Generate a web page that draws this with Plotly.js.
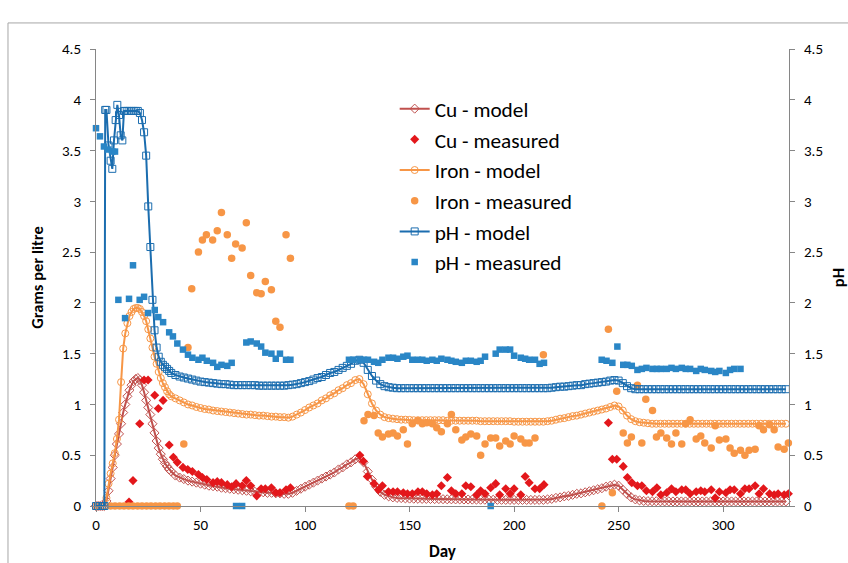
<!DOCTYPE html>
<html>
<head>
<meta charset="utf-8">
<script src="https://cdn.plot.ly/plotly-3.0.1.min.js"></script>
<style>
html,body{margin:0;padding:0;background:#fff;}
#chart{width:848px;height:563px;}
</style>
</head>
<body>
<div id="chart"></div>
<script>
// ---------- Model day grid ----------
const modelDays = [0,1,2,3,4,5,6,7,8,9,10,11,12,13,14,15,16,17,18,19,20,21,22,23,24,25,26,27,28,29,30,31,32,33,34,35,36,
38,40,42,44,46,48,50,52,54,56,58,60,62,64,66,68,70,72,74,76,78,80,82,84,86,88,90,92,
94,96,98,100,102,104,106,108,110,112,114,116,118,120,122,124,
126,128,130,132,134,136,138,140,142,144,146,148,150,
152,154,156,158,160,162,164,166,168,170,172,174,176,178,180,182,184,186,188,190,192,194,196,198,200,202,204,206,208,210,212,214,
216,218,220,222,224,226,228,230,232,234,236,238,240,242,244,246,248,
250,252,254,256,258,260,262,264,
266,268,270,272,274,276,278,280,282,284,286,288,290,292,294,296,298,300,302,304,306,308,310,312,314,316,318,320,322,324,326,328,330];

const cuModel = [0,0,0,0,0,.05,.15,.27,.38,.50,.61,.71,.81,.92,1.0,1.08,1.14,1.19,1.23,1.25,1.26,1.24,1.19,1.12,1.04,.97,.90,.81,.72,.64,.57,.51,.46,.42,.39,.36,.34,
.30,.28,.265,.25,.24,.23,.22,.21,.20,.195,.19,.18,.175,.17,.165,.16,.155,.15,.145,.14,.14,.135,.13,.13,.125,.125,.12,.12,
.13,.15,.17,.19,.21,.23,.25,.27,.29,.31,.33,.36,.38,.41,.43,.46,
.47,.43,.34,.26,.19,.14,.11,.095,.085,.08,.078,.075,.073,
.072,.071,.07,.07,.069,.068,.068,.067,.066,.066,.065,.065,.064,.064,.063,.063,.062,.062,.062,.061,.061,.061,.06,.06,.06,.06,.06,.06,.06,.06,.06,.06,
.065,.07,.08,.085,.095,.10,.11,.12,.125,.135,.145,.155,.165,.175,.19,.20,.21,
.20,.16,.12,.085,.065,.055,.05,.048,
.047,.047,.046,.045,.045,.045,.045,.045,.045,.045,.045,.045,.045,.045,.045,.045,.045,.045,.045,.045,.045,.045,.045,.045,.045,.045,.045,.045,.045,.045,.045,.045,.045];

const ironModel = [0,0,0,0,0,.08,.22,.32,.42,.52,.66,.85,1.22,1.55,1.70,1.80,1.87,1.91,1.94,1.95,1.95,1.94,1.91,1.87,1.82,1.74,1.65,1.56,1.47,1.40,1.32,1.26,1.21,1.17,1.13,1.10,1.08,
1.06,1.04,1.02,1.0,.99,.975,.965,.955,.95,.94,.935,.93,.925,.92,.915,.91,.905,.90,.90,.895,.89,.89,.885,.88,.88,.875,.875,.87,
.88,.90,.92,.945,.97,.99,1.01,1.04,1.06,1.09,1.11,1.14,1.16,1.19,1.21,1.24,
1.25,1.20,1.10,1.01,.94,.90,.875,.865,.86,.855,.85,.85,.848,
.845,.845,.845,.845,.845,.845,.845,.845,.84,.84,.84,.84,.84,.84,.84,.84,.835,.835,.835,.835,.835,.835,.835,.835,.83,.83,.83,.83,.83,.83,.83,.83,
.835,.84,.85,.86,.865,.875,.885,.89,.90,.91,.92,.93,.94,.95,.96,.975,.99,
.98,.94,.89,.855,.835,.825,.82,.815,
.81,.81,.81,.81,.81,.81,.81,.81,.81,.81,.81,.81,.81,.81,.81,.81,.81,.81,.81,.81,.81,.81,.81,.81,.81,.81,.81,.81,.81,.81,.81,.81,.81];

const phModelDays = [0,1,2,3,4,4.4,5,6,7,7.8,8.6,9.4,10.2,11,11.8,12.6,13.4,14,15,16,17,18,19,20,21,22,23,24,25,26,27,28,29,30,31,32,33,34,35,36,
38,40,42,44,46,48,50,52,54,56,58,60,62,64,66,68,70,72,74,76,78,80,82,84,86,88,90,92,
94,96,98,100,102,104,106,108,110,112,114,116,118,120,122,124,
126,128,130,132,134,136,138,140,142,144,146,148,150,
152,154,156,158,160,162,164,166,168,170,172,174,176,178,180,182,184,186,188,190,192,194,196,198,200,202,204,206,208,210,212,214,
216,218,220,222,224,226,228,230,232,234,236,238,240,242,244,246,248,
250,252,254,256,258,260,262,264,
266,268,270,272,274,276,278,280,282,284,286,288,290,292,294,296,298,300,302,304,306,308,310,312,314,316,318,320,322,324,326,328,330];

const phModel = [0,0,0,0,0,3.9,3.9,3.55,3.4,3.32,3.6,3.8,3.95,3.85,3.65,3.6,3.89,3.89,3.89,3.89,3.89,3.89,3.89,3.89,3.87,3.8,3.68,3.45,2.95,2.55,2.03,1.73,1.56,1.47,1.42,1.39,1.37,1.35,1.33,1.31,
1.29,1.275,1.265,1.255,1.245,1.235,1.225,1.22,1.215,1.21,1.205,1.20,1.20,1.195,1.19,1.19,1.19,1.19,1.19,1.19,1.185,1.185,1.185,1.185,1.185,1.185,1.185,1.19,
1.195,1.20,1.21,1.22,1.23,1.245,1.26,1.27,1.29,1.31,1.32,1.34,1.36,1.38,1.40,1.43,
1.44,1.41,1.34,1.28,1.235,1.20,1.18,1.17,1.165,1.16,1.16,1.16,1.16,
1.16,1.16,1.16,1.16,1.16,1.16,1.16,1.16,1.16,1.16,1.16,1.16,1.16,1.16,1.16,1.16,1.16,1.16,1.16,1.16,1.16,1.16,1.16,1.16,1.16,1.16,1.16,1.16,1.16,1.16,1.16,1.16,
1.16,1.165,1.17,1.175,1.175,1.18,1.185,1.19,1.19,1.20,1.205,1.21,1.215,1.22,1.225,1.235,1.24,
1.235,1.21,1.18,1.16,1.15,1.15,1.15,1.15,
1.15,1.15,1.15,1.15,1.15,1.15,1.15,1.15,1.15,1.15,1.15,1.15,1.15,1.15,1.15,1.15,1.15,1.15,1.15,1.15,1.15,1.15,1.15,1.15,1.15,1.15,1.15,1.15,1.15,1.15,1.15,1.15,1.15];

// ---------- Measured ----------
const cuDays = [15.8,17.7,20.9,23,24.9,28.1,29.8,32.1,35,37,38.9,41.6,43.9,46.1,49,50.9,53,56,58,60,62.8,64.9,67,69.9,71.9,74,76.9,79,81,83.9,86,88,90.9,93,
126.2,127.9,129.8,133,135.1,137,139.9,142.1,144.2,147,149,151.3,154,156.1,158.2,160.9,163,165.2,168.1,170,172.1,175,176.9,179.3,182.1,184,186.1,188.8,191.2,193.1,196,198.1,200,203.2,205.3,207.2,210,212.2,214.3,
245.1,247,249.1,252.2,254.2,256.3,259,261.1,263.3,266.2,268.3,270.2,273,275.3,277.4,280.2,282.1,284.2,287.1,289.3,291.2,294.3,296.2,298.2,301.3,303.3,305.3,308.3,310.4,312.4,315.3,317.2,319.3,322.2,324.4,326.3,329.2,331.2];
const cuMeasured = [.04,.25,.81,1.24,1.24,1.09,.96,1.04,.60,.48,.43,.38,.36,.34,.31,.28,.26,.23,.24,.23,.21,.19,.22,.20,.25,.20,.10,.17,.17,.18,.13,.13,.16,.18,
.50,.44,.29,.22,.16,.20,.14,.14,.14,.13,.12,.12,.14,.14,.12,.11,.12,.20,.28,.15,.12,.12,.20,.19,.11,.15,.12,.18,.22,.11,.17,.12,.17,.11,.29,.23,.17,.17,.21,
.82,.46,.46,.39,.28,.23,.20,.20,.15,.14,.18,.11,.13,.17,.14,.16,.16,.12,.14,.15,.14,.16,.08,.14,.13,.16,.16,.12,.17,.17,.20,.12,.17,.12,.11,.12,.11,.12];

const ironDays = [7,9.1,11.3,13.4,15.6,17.7,19.9,22,24.2,26.3,28.5,30.6,32.8,34.9,37,38.9,
42,44,45.8,49,50.9,52.8,55.8,58,60,62.8,64.9,66.8,69.9,71.9,74,76.9,79,81,83.9,86,88,90.9,93,
121,123,128.2,130.1,133,135,137,139.9,142.1,144.2,147,149,151.3,154,156.1,158.2,160.9,163,165.2,168.1,170,172.1,175,176.9,179.3,182.1,184,186.1,188.8,191.2,193.1,196,198.1,200,203.2,205.3,207.2,210,214,
242,245.1,247,249.1,252.2,254.2,256.1,259,261.1,263,266.2,268.1,270.2,273,275.3,277.4,280.2,282.1,284.2,287.1,289.3,291.2,294.3,296.2,298.2,301.3,303.3,305.3,308.3,310.4,312.4,315.3,317.2,319.3,322.2,324.4,326.3,329.2,331.2];
const ironMeasured = [0,0,0,0,0,0,0,0,0,0,0,0,0,0,0,0,
.61,1.56,2.14,2.50,2.62,2.67,2.62,2.71,2.89,2.67,2.44,2.58,2.54,2.79,2.27,2.10,2.09,2.21,2.13,1.82,1.76,2.67,2.44,
0,0,.84,.90,.89,.72,.68,.71,.72,.69,.75,.61,.81,.84,.81,.82,.81,.77,.73,.81,.90,.75,.65,.68,.71,.69,.50,.61,.67,.67,.59,.64,.61,.69,.66,.62,.62,.67,1.49,
0,1.74,.13,1.13,.72,.62,.68,1.19,.62,1.05,.94,.68,.72,.67,.61,.72,.61,.81,.85,.66,.69,.62,.57,.79,.65,.66,.57,.52,.55,.50,.55,.56,.79,.75,.80,.75,.58,.56,.62];

const phDays = [0,1.9,3.8,5.9,7.8,9.1,10.7,13.9,15.8,17.7,20.9,23,24.9,28.1,29.8,32.1,35,36.8,38.9,41.6,44,46.1,49,50.9,53,56,58,60,62.8,64.9,67,69.9,71.9,74,76.9,79,81,83.9,86,88,90.9,93,
121,123,126.2,128.2,130.1,133,135,137,139.9,142.1,144.2,147,149,151.3,154,156.1,158.2,160.9,163,165.2,168.1,170,172.1,175,176.9,179.3,182.1,184,186.1,188.8,191.2,193.1,196,198.1,200,203.2,205.3,207.2,210,212.2,214.3,
241.9,244.2,247,249.4,252.2,254.2,256.3,259,261.1,263.3,266.2,268.3,270.2,273,275.3,277.4,280.2,282.1,284.2,287.1,289.3,291.2,294.3,296.2,298.2,301.3,303.3,305.3,308.3];
const phMeasured = [3.72,3.64,3.54,3.51,3.49,3.49,2.03,1.85,2.04,2.37,2.03,2.06,1.90,1.93,1.86,1.81,1.71,1.67,1.60,1.54,1.49,1.46,1.44,1.46,1.43,1.41,1.37,1.39,1.38,1.41,0,0,1.61,1.62,1.60,1.57,1.51,1.50,1.45,1.50,1.44,1.44,
1.44,1.44,1.44,1.44,1.44,1.42,1.41,1.44,1.46,1.46,1.45,1.47,1.48,1.44,1.44,1.44,1.43,1.44,1.43,1.45,1.44,1.43,1.42,1.41,1.43,1.43,1.42,1.43,1.47,0,1.50,1.54,1.54,1.54,1.48,1.46,1.45,1.44,1.44,1.40,1.41,
1.44,1.43,1.41,1.57,1.39,1.39,1.38,1.34,1.35,1.36,1.35,1.35,1.35,1.35,1.36,1.35,1.36,1.35,1.35,1.33,1.35,1.34,1.33,1.32,1.33,1.31,1.34,1.35,1.35];

const yTicks = [0,0.5,1,1.5,2,2.5,3,3.5,4,4.5];

// ---------- Styles ----------
const FONT = 'Carlito, Lato, "Liberation Sans", sans-serif';
const C_CU_M = '#C0504D', C_CU = '#E3171B', C_FE = '#F79646', C_PH_M = '#1B6DAF', C_PH = '#2A86C6';
const AX = '#868686';

const traces = [
  {name:'Cu - model', x:modelDays, y:cuModel, type:'scatter', mode:'lines+markers',
   line:{color:C_CU_M, width:2}, marker:{symbol:'diamond-open', size:7, color:C_CU_M, line:{width:1}}, cliponaxis:false},
  {name:'Cu - measured', x:cuDays, y:cuMeasured, type:'scatter', mode:'markers',
   marker:{symbol:'diamond', size:7, color:C_CU}, cliponaxis:false},
  {name:'Iron - model', x:modelDays, y:ironModel, type:'scatter', mode:'lines+markers',
   line:{color:C_FE, width:2}, marker:{symbol:'circle-open', size:7, color:C_FE, line:{width:1}}, cliponaxis:false},
  {name:'Iron - measured', x:ironDays, y:ironMeasured, type:'scatter', mode:'markers',
   marker:{symbol:'circle', size:7.5, color:C_FE}, cliponaxis:false},
  {name:'pH - model', x:phModelDays, y:phModel, type:'scatter', mode:'lines+markers', yaxis:'y2',
   line:{color:C_PH_M, width:2}, marker:{symbol:'square-open', size:7, color:C_PH_M, line:{width:1}}, cliponaxis:false},
  {name:'pH - measured', x:phDays, y:phMeasured, type:'scatter', mode:'markers', yaxis:'y2',
   marker:{symbol:'square', size:6.5, color:C_PH}, cliponaxis:false}
];

const layout = {
  width:848, height:563,
  margin:{l:96, r:59, t:49, b:57, pad:0},
  paper_bgcolor:'#ffffff', plot_bgcolor:'#ffffff',
  font:{family:FONT, size:15, color:'#000'},
  showlegend:true,
  legend:{x:0.431, y:0.914, xanchor:'left', yanchor:'top', bgcolor:'rgba(0,0,0,0)',
    font:{family:FONT, size:21.3, color:'#000'}, itemwidth:30, tracegroupgap:0},
  xaxis:{range:[0,331.5], tickvals:[0,50,100,150,200,250,300], ticks:'outside', ticklen:5, tickcolor:AX,
    showline:true, linecolor:AX, linewidth:1, showgrid:false, zeroline:false,
    tickfont:{size:15},
    title:{text:'<b>Day</b>', font:{size:17}, standoff:12}},
  yaxis:{range:[0,4.5], tickvals:yTicks, ticks:'outside', ticklen:5, tickcolor:AX,
    showline:true, linecolor:AX, linewidth:1, showgrid:false, zeroline:false,
    tickfont:{size:15}, ticklabelstandoff:6,
    title:{text:'<b>Grams per litre</b>', font:{size:16.5}, standoff:14}},
  yaxis2:{range:[0,4.5], tickvals:yTicks, overlaying:'y', side:'right', ticks:'outside', ticklen:5, tickcolor:AX,
    showline:true, linecolor:AX, linewidth:1, showgrid:false, zeroline:false,
    tickfont:{size:15}, ticklabelstandoff:6,
    title:{text:'<b>pH</b>', font:{size:16.5}, standoff:12}},
  shapes:[
    {type:'line', xref:'paper', yref:'paper', x0:-0.127, x1:-0.127, y0:1.057, y1:-0.2, line:{color:'#A6A6A6', width:1}},
    {type:'line', xref:'paper', yref:'paper', x0:-0.127, x1:1.2, y0:1.057, y1:1.057, line:{color:'#A6A6A6', width:1}}
  ]
};

Plotly.newPlot('chart', traces, layout, {displayModeBar:false, staticPlot:true});
</script>
</body>
</html>
